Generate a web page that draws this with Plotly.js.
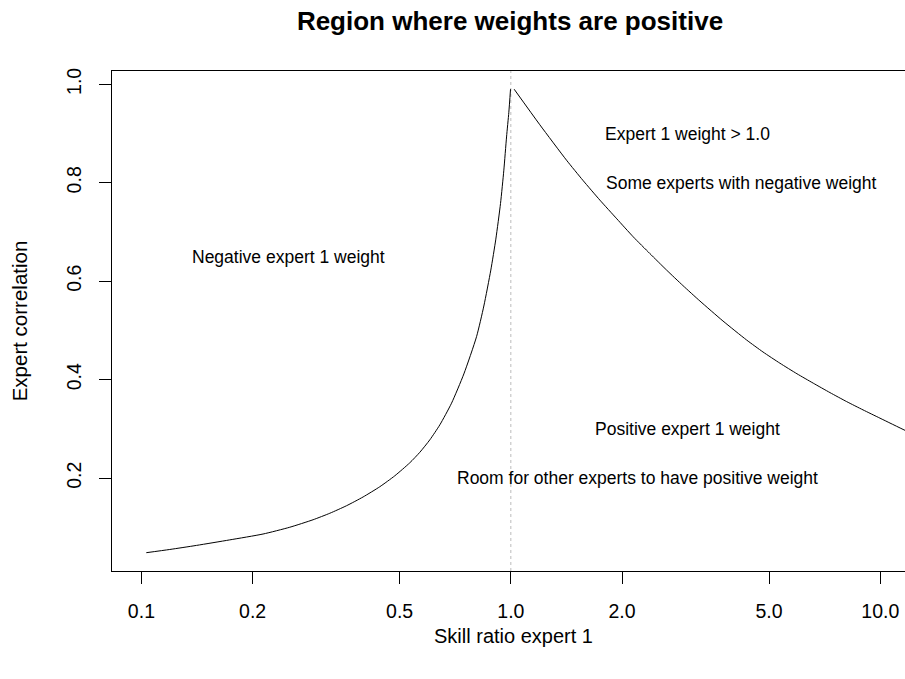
<!DOCTYPE html>
<html>
<head>
<meta charset="utf-8">
<script src="https://cdn.plot.ly/plotly-3.0.1.min.js"></script>
<style>
html, body { margin: 0; padding: 0; overflow: hidden; background: #fff; }
#chart { width: 930px; height: 679px; }
</style>
</head>
<body>
<div id="chart"></div>
<script>
// Boundary curve below skill ratio 1
var leftX = [0.1031, 0.1193, 0.141, 0.1734, 0.2134, 0.2521, 0.2915, 0.3236, 0.3589, 0.3982, 0.4417, 0.4852, 0.5327, 0.567, 0.6035, 0.6424, 0.691, 0.7461, 0.8075, 0.8451, 0.8827, 0.9107, 0.9377, 0.9573, 0.9736, 0.9876, 0.998];
var leftY = [0.0485, 0.055, 0.0633, 0.0745, 0.0864, 0.1002, 0.1154, 0.1286, 0.1438, 0.1617, 0.1824, 0.2047, 0.2311, 0.2524, 0.2777, 0.3082, 0.3522, 0.4116, 0.4873, 0.5496, 0.6226, 0.6855, 0.758, 0.8255, 0.893, 0.9432, 0.99];
// Boundary curve above skill ratio 1
var rightX = [1.021, 1.198, 1.415, 1.566, 1.742, 1.936, 2.144, 2.379, 2.64, 2.922, 3.25, 3.751, 4.346, 4.813, 5.35, 5.949, 6.587, 7.308, 8.11, 8.98, 9.98, 11.67, 12.42];
var rightY = [0.99, 0.9178, 0.8458, 0.8052, 0.7647, 0.7267, 0.6902, 0.6561, 0.6226, 0.5912, 0.5597, 0.5192, 0.4806, 0.4563, 0.4334, 0.412, 0.3928, 0.3737, 0.3554, 0.3386, 0.3218, 0.297, 0.2879];
// Reference line
var refX = 1;
// Ticks
var xTickVals = [0.1, 0.2, 0.5, 1, 2, 5, 10];
var xTickText = ["0.1", "0.2", "0.5", "1.0", "2.0", "5.0", "10.0"];
var yTickVals = [0.2, 0.4, 0.6, 0.8, 1.0];
var yTickText = ["0.2", "0.4", "0.6", "0.8", "1.0"];
// Region labels
var labelText = ["Expert 1 weight > 1.0", "Some experts with negative weight", "Negative expert 1 weight", "Positive expert 1 weight", "Room for other experts to have positive weight"];
var labelX = [3.0, 4.2, 0.25, 3.0, 2.2];
var labelY = [0.9, 0.8, 0.65, 0.3, 0.2];

var FONT = "Liberation Sans, Arial, Helvetica, sans-serif";

var traces = [
  {x: leftX, y: leftY, type: "scatter", mode: "lines", line: {color: "#000", width: 1, shape: "spline", smoothing: 0.6}, hoverinfo: "skip", showlegend: false},
  {x: rightX, y: rightY, type: "scatter", mode: "lines", line: {color: "#000", width: 1, shape: "spline", smoothing: 0.6}, hoverinfo: "skip", showlegend: false}
];

var annotations = labelText.map(function (t, i) {
  return {x: Math.log10(labelX[i]), y: labelY[i], xref: "x", yref: "y", text: t, showarrow: false,
          font: {family: FONT, size: 17.5, color: "#000"}, xanchor: "center", yanchor: "middle"};
});

var layout = {
  width: 930, height: 679,
  margin: {l: 112, r: 15, t: 71, b: 108, pad: 0},
  paper_bgcolor: "#fff", plot_bgcolor: "#fff",
  font: {family: FONT, color: "#000"},
  title: {text: "<b>Region where weights are positive</b>", font: {family: FONT, size: 26, color: "#000"},
          xref: "container", x: 510 / 930, xanchor: "center", yref: "container", y: 1 - 21 / 679, yanchor: "middle"},
  xaxis: {type: "log", range: [-1.0796, 1.094], tickvals: xTickVals, ticktext: xTickText,
          ticks: "outside", ticklen: 12, tickwidth: 1, tickcolor: "#000", ticklabelstandoff: 11,
          showline: true, linecolor: "#000", linewidth: 1, mirror: true, showgrid: false, zeroline: false,
          tickfont: {family: FONT, size: 19.5, color: "#000"},
          title: {text: "Skill ratio expert 1", font: {family: FONT, size: 20, color: "#000"}, standoff: 7}},
  yaxis: {range: [0.0113, 1.027], tickvals: yTickVals, ticktext: yTickText, tickangle: -90,
          ticks: "outside", ticklen: 12, tickwidth: 1, tickcolor: "#000", ticklabelstandoff: 10,
          showline: true, linecolor: "#000", linewidth: 1, mirror: true, showgrid: false, zeroline: false,
          tickfont: {family: FONT, size: 19.5, color: "#000"},
          title: {text: "Expert correlation", font: {family: FONT, size: 20.5, color: "#000"}, standoff: 30}},
  shapes: [{type: "line", xref: "x", yref: "paper", x0: refX, x1: refX, y0: 0, y1: 1,
            line: {color: "#bbbbbb", width: 1, dash: "dot"}, layer: "below"}],
  annotations: annotations
};

Plotly.newPlot("chart", traces, layout, {staticPlot: true, displayModeBar: false});
</script>
</body>
</html>
